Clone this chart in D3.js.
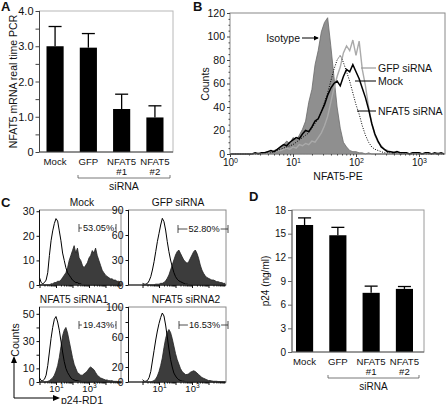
<!DOCTYPE html>
<html><head><meta charset="utf-8">
<script src="https://cdn.jsdelivr.net/npm/d3@7/dist/d3.min.js"></script>
<style>
body{margin:0;background:#fff;}
svg{display:block;font-family:"Liberation Sans",Arial,Helvetica,sans-serif;}
</style></head><body>
<svg id="c" width="446" height="404"></svg>
<script>
// ---------- DATA ----------
// Panel A
const catsA = ["Mock","GFP","NFAT5\n#1","NFAT5\n#2"];
const valsA = [3.0, 2.96, 1.22, 0.98];
const errA  = [0.56, 0.40, 0.42, 0.33];
const ticksA = [0,1,2,3,4];
// Panel D
const catsD = ["Mock","GFP","NFAT5\n#1","NFAT5\n#2"];
const valsD = [16.1, 14.8, 7.5, 8.0];
const errD  = [0.9, 1.0, 0.85, 0.3];
const ticksD = [0,3,6,9,12,15,18];
// Panel B : histograms, log10 start 0, step 0.05
const bStart = 0, bStep = 0.05;
const bIsotype = [0,0,0,0,0,0,0,0,1,0, 1,1,2,1,3,4,5,8,11,9, 14,12,16,21,28,44,55,76,88,104, 112,116,92,66,40,22,10,6,3,2, 2,1,1,0,1,0,0,0,0,0, 0,0,0,0,0,0,0,0,0,0, 0,0,0,0,0,0,0,0,0];
const bMock    = [0,0,0,0,0,0,0,0,1,0, 1,1,2,3,2,4,6,8,7,10, 12,14,13,17,20,19,23,28,30,36, 42,50,56,60,62,58,66,72,70,76, 70,64,56,48,38,26,17,11,6,4, 2,2,1,2,1,1,1,0,1,1, 1,0,1,1,0,1,0,1,0];
const bGfp     = [0,0,0,0,0,0,0,0,0,1, 0,1,1,2,2,3,3,4,5,4, 6,5,8,7,9,8,11,10,14,18, 24,32,44,56,66,74,86,92,88,97, 84,96,72,58,40,26,16,10,7,4, 3,2,2,1,1,1,1,0,1,0, 1,0,0,1,0,0,1,0,0];
const bNfat5   = [0,0,0,0,0,0,0,0,0,0, 0,1,1,1,2,3,4,5,6,7, 8,10,12,14,16,18,22,26,30,36, 44,52,62,72,80,84,78,70,62,52, 42,34,24,16,10,6,4,3,2,1, 1,1,0,1,0,0,1,0,0,0, 0,0,0,0,0,0,0,0,0];
const bTicksY = [0,20,40,60,80,100,120];
// Panel C : histograms, log10 start 0, step 0.1
const cStart = 0, cStep = 0.1;
const cTitles = ["Mock","GFP siRNA","NFAT5 siRNA1","NFAT5 siRNA2"];
const cPercents = ["53.05%","52.80%","19.43%","16.53%"];
const cMockNeg = [3,1,0.5,1,2,5,12,18,22,25, 27,26,22,18,13,10,7,5,4,3, 2,1.5,1,1,0.5,0.5,0,0,0,0, 0,0,0,0,0,0,0,0,0,0, 0,0,0,0,0,0,0,0,0,0, 0];
const cMockPos = [0,0,0,0,0,0,0,0.5,0.5,1, 1,1.5,1.5,2,3,4,5,7,10,12, 14,16,13,15,11,10,8,7,8,9, 11,12,14,13,15,12,10,8,6,5, 4,3.5,3,2.5,2.5,2,2,1.5,1.5,1, 1];
const cGfpNeg  = [2,1,1,2,5,10,18,28,40,52, 62,72,80,76,66,52,40,30,22,15, 10,7,5,4,3,2,1,1,0.5,0.5, 0,0,0,0,0,0,0,0,0,0, 0,0,0,0,0,0,0,0,0,0, 0];
const cGfpPos  = [0,0,0,0,0,0,0,0,1,1, 1,2,2,3,5,8,12,18,24,30, 36,40,42,38,34,30,28,26,28,32, 36,40,42,38,32,24,18,14,11,9, 8,7,6,6,5,4,4,3,3,2, 2];
const cSi1Neg  = [3,1,1,2,5,12,22,32,40,46, 48,44,38,30,22,15,10,7,5,3, 2,1.5,1,1,0.5,0.5,0,0,0,0, 0,0,0,0,0,0,0,0,0,0, 0,0,0,0,0,0,0,0,0,0, 0];
const cSi1Pos  = [0,0,0,0,0,0.5,1,2,3,5, 8,12,18,26,34,38,40,36,30,24, 18,13,10,7,6,5,5,6,7,8, 10,11,10,9,7,5,4,3,2.5,2, 1.5,1.5,1,1,1,0.5,0.5,0.5,0,0, 0];
const cSi2Neg  = [3,1,1,2,6,14,28,42,56,68, 78,86,92,88,76,60,44,30,20,12, 8,5,3,2,1,1,0.5,0,0,0, 0,0,0,0,0,0,0,0,0,0, 0,0,0,0,0,0,0,0,0,0, 0];
const cSi2Pos  = [0,0,0,0,0,0,1,2,4,8, 14,22,32,46,58,66,70,66,58,48, 38,30,24,18,14,12,10,10,11,13, 14,15,14,12,10,8,6,5,4,3, 2,2,1.5,1,1,1,0.5,0.5,0,0, 0];
const cYTicks = [[0,10,20,30],[0,30,60,90],[0,10,20,30,40,50],[0,20,40,60,80,100]];
const cYLabels = [[0,10,20,30],[0,30,60,90],[0,10,30,50],[0,20,60,100]];

// ---------- HELPERS ----------
const svg = d3.select("#c");
function txt(x,y,s,o={}){
  const t = svg.append("text").attr("x",x).attr("y",y).text(s)
    .attr("font-size",o.size||10).attr("fill",o.fill||"#111")
    .attr("text-anchor",o.anchor||"start");
  if(o.weight) t.attr("font-weight",o.weight);
  if(o.rotate) t.attr("transform",`rotate(-90,${x},${y})`);
  return t;
}
function styleAxis(g,color){
  g.select(".domain").remove();
  g.selectAll(".tick line").attr("stroke",color||"#222");
  g.selectAll(".tick text").attr("fill","#111").attr("font-family",null);
}
function supFmt(g){
  g.selectAll(".tick text").each(function(d){
    const e = Math.round(Math.log10(d));
    const t = d3.select(this); t.text("10");
    t.append("tspan").attr("dy","-0.5em").attr("font-size","0.7em").text(e);
  });
}
function minorLogTicks(lo,hi){
  const out=[];
  for(let e=Math.floor(lo);e<=Math.ceil(hi);e++) for(let m=2;m<=9;m++){
    const v=m*Math.pow(10,e); const l=Math.log10(v);
    if(l>=lo && l<=hi) out.push(v);
  }
  return out;
}

// ---------- BAR PANELS ----------
function barPanel(c){
  const y = d3.scaleLinear().domain([0,c.ymax]).range([c.yb,c.yt]);
  const x = d3.scaleBand().domain(c.cats).range(c.band).paddingInner(0.485).paddingOuter(0);
  svg.append("rect").attr("x",c.xl).attr("y",c.yt).attr("width",c.xr-c.xl).attr("height",c.yb-c.yt)
    .attr("fill","none").attr("stroke",c.frameColor).attr("stroke-width",1);
  svg.append("g").selectAll("rect").data(c.vals).join("rect")
    .attr("x",(d,i)=>x(c.cats[i])).attr("width",x.bandwidth())
    .attr("y",d=>y(d)).attr("height",d=>y(0)-y(d)).attr("fill","#000");
  const eg = svg.append("g").attr("stroke","#000").attr("stroke-width",1.3);
  c.vals.forEach((v,i)=>{
    const cx = x(c.cats[i])+x.bandwidth()/2;
    eg.append("line").attr("x1",cx).attr("x2",cx).attr("y1",y(v)).attr("y2",y(v+c.errs[i]));
    eg.append("line").attr("x1",cx-6.5).attr("x2",cx+6.5).attr("y1",y(v+c.errs[i])).attr("y2",y(v+c.errs[i]));
  });
  svg.append("line").attr("x1",c.xl).attr("x2",c.xl).attr("y1",c.yt).attr("y2",c.yb).attr("stroke",c.axisColor);
  svg.append("line").attr("x1",c.xl).attr("x2",c.xr).attr("y1",c.yb).attr("y2",c.yb).attr("stroke",c.axisColor);
  const gy = svg.append("g").attr("transform",`translate(${c.xl},0)`)
    .call(d3.axisLeft(y).tickValues(c.ticks).tickFormat(c.fmt).tickSize(4).tickPadding(2))
    .attr("font-size",c.tickSize);
  styleAxis(gy,c.axisColor);
  if(c.minor){
    const gm = svg.append("g").attr("transform",`translate(${c.xl},0)`)
      .call(d3.axisLeft(y).tickValues(c.minor).tickFormat("").tickSize(4));
    styleAxis(gm,c.axisColor);
  }
  c.cats.forEach((cat,i)=>{
    const cx = x(cat)+x.bandwidth()/2;
    cat.split("\n").forEach((line,j)=>{
      txt(cx, c.catY + j*10, line, {size:c.catSize, anchor:"middle"});
    });
  });
  const [b0,b1,by] = c.bracket;
  svg.append("path").attr("d",`M${b0},${by-3}V${by}H${b1}V${by-3}`).attr("fill","none").attr("stroke","#555").attr("stroke-width",0.8);
  txt((b0+b1)/2, by+12, "siRNA", {size:c.sizeSi, anchor:"middle"});
  txt(c.ylabX, (c.yt+c.yb)/2, c.ylab, {size:c.ylabSize, anchor:"middle", rotate:true});
}

barPanel({xl:39.5, xr:173, yt:11, yb:152, ymax:4, band:[46.5,163.5], cats:catsA, vals:valsA, errs:errA,
  ticks:ticksA, minor:[0.5,1.5,2.5,3.5], fmt:d=>d===0?"0":d3.format(".1f")(d), tickSize:11,
  frameColor:"#b8b8b8", axisColor:"#444", catY:165, catSize:9.6, sizeSi:10.5, bracket:[78,170,178],
  ylab:"NFAT5 mRNA real time PCR", ylabX:17, ylabSize:10.5});

barPanel({xl:292, xr:424, yt:210, yb:352, ymax:18, band:[296,413], cats:catsD, vals:valsD, errs:errD,
  ticks:ticksD, minor:null, fmt:d3.format("d"), tickSize:10,
  frameColor:"#9a9a9a", axisColor:"#666", catY:365, catSize:9.6, sizeSi:10, bracket:[328,419,378],
  ylab:"p24 (ng/ml)", ylabX:269, ylabSize:10});

// ---------- PANEL B ----------
(function(){
  const xl=230, xr=445, yt=13, yb=154;
  const x = d3.scaleLog().domain([1, Math.pow(10,(xr-xl)/63)]).range([xl,xr]);
  const y = d3.scaleLinear().domain([0,120]).range([yb,yt]);
  const pts = arr => arr.map((v,i)=>[Math.pow(10,bStart+i*bStep), v]);
  const area = d3.area().x(d=>x(d[0])).y0(y(0)).y1(d=>y(d[1]));
  const line = d3.line().x(d=>x(d[0])).y(d=>y(d[1]));
  svg.append("path").attr("d",area(pts(bIsotype))).attr("fill","#8f8f8f").attr("stroke","#6a6a6a").attr("stroke-width",0.8);
  svg.append("path").attr("d",line(pts(bGfp))).attr("fill","none").attr("stroke","#aaaaaa").attr("stroke-width",1.4);
  svg.append("path").attr("d",line(pts(bMock))).attr("fill","none").attr("stroke","#000").attr("stroke-width",1.5);
  svg.append("path").attr("d",line(pts(bNfat5))).attr("fill","none").attr("stroke","#000").attr("stroke-width",1).attr("stroke-dasharray","1,1.5");
  svg.append("rect").attr("x",xl).attr("y",yt).attr("width",xr-xl).attr("height",yb-yt).attr("fill","none").attr("stroke","#888");
  const gy = svg.append("g").attr("transform",`translate(${xl},0)`)
    .call(d3.axisLeft(y).tickValues(bTicksY).tickSize(3).tickPadding(2)).attr("font-size",10.5);
  styleAxis(gy,"#444");
  const gym = svg.append("g").attr("transform",`translate(${xl},0)`)
    .call(d3.axisLeft(y).tickValues(d3.range(5,120,5).filter(v=>v%20)).tickSize(1.5).tickFormat(""));
  styleAxis(gym,"#444");
  const gx = svg.append("g").attr("transform",`translate(0,${yb})`)
    .call(d3.axisBottom(x).tickValues([1,10,100,1000]).tickSize(3).tickPadding(2)).attr("font-size",10);
  styleAxis(gx,"#444"); supFmt(gx);
  const gxm = svg.append("g").attr("transform",`translate(0,${yb})`)
    .call(d3.axisBottom(x).tickValues(minorLogTicks(0,(xr-xl)/63)).tickSize(1.5).tickFormat(""));
  styleAxis(gxm,"#444");
  txt(338,180,"NFAT5-PE",{size:10.5,anchor:"middle"});
  txt(209,84,"Counts",{size:10.5,anchor:"middle",rotate:true});
  txt(300,42,"Isotype",{size:10.5,anchor:"end"});
  svg.append("defs").html('<marker id="ah" viewBox="0 0 6 6" refX="5" refY="3" markerWidth="5" markerHeight="5" orient="auto"><path d="M0,0L6,3L0,6z" fill="#000"/></marker>');
  svg.append("line").attr("x1",302).attr("x2",318).attr("y1",38).attr("y2",38).attr("stroke","#000").attr("marker-end","url(#ah)");
  svg.append("line").attr("x1",361).attr("x2",376).attr("y1",68).attr("y2",68).attr("stroke","#999").attr("stroke-width",1.2);
  svg.append("line").attr("x1",355).attr("x2",376).attr("y1",81).attr("y2",81).attr("stroke","#000");
  svg.append("line").attr("x1",357).attr("x2",376).attr("y1",111).attr("y2",111).attr("stroke","#000");
  txt(378,72,"GFP siRNA",{size:10.5});
  txt(378,85,"Mock",{size:10.5});
  txt(378,115,"NFAT5 siRNA",{size:10.5});
})();

// ---------- PANEL C ----------
(function(){
  const panels = [
    {xl:39.5, xr:121, lo:0, hi:4.94, yt:210, yb:285, ymax:30.5, neg:cMockNeg, pos:cMockPos, xl_lab:false, pct:[79,116,228], tx:82},
    {xl:128.5, xr:226, lo:-0.85, hi:5.06, yt:210, yb:285, ymax:90, neg:cGfpNeg, pos:cGfpPos, xl_lab:false, pct:[178,228,229], tx:178},
    {xl:39.5, xr:121, lo:0, hi:4.94, yt:307, yb:382, ymax:55, neg:cSi1Neg, pos:cSi1Pos, xl_lab:true, pct:[79,116,325], tx:74},
    {xl:128.5, xr:226, lo:-0.85, hi:5.06, yt:307, yb:382, ymax:100, neg:cSi2Neg, pos:cSi2Pos, xl_lab:true, pct:[179,228,325], tx:186}
  ];
  panels.forEach((p,k)=>{
    const x = d3.scaleLog().domain([Math.pow(10,p.lo),Math.pow(10,p.hi)]).range([p.xl,p.xr]);
    const y = d3.scaleLinear().domain([0,p.ymax]).range([p.yb,p.yt]);
    const pts = arr => arr.map((v,i)=>[Math.pow(10,cStart+i*cStep), v]);
    svg.append("path").attr("d",d3.area().x(d=>x(d[0])).y0(y(0)).y1(d=>y(d[1]))(pts(p.pos)))
      .attr("fill","#3c3c3c").attr("stroke","#222").attr("stroke-width",0.8);
    svg.append("path").attr("d",d3.line().x(d=>x(d[0])).y(d=>y(d[1]))(pts(p.neg)))
      .attr("fill","none").attr("stroke","#000").attr("stroke-width",1);
    svg.append("rect").attr("x",p.xl).attr("y",p.yt).attr("width",p.xr-p.xl).attr("height",p.yb-p.yt)
      .attr("fill","none").attr("stroke","#8a8a8a");
    svg.append("line").attr("x1",p.xl).attr("x2",p.xl).attr("y1",p.yt).attr("y2",p.yb).attr("stroke","#111");
    svg.append("line").attr("x1",p.xl).attr("x2",p.xr).attr("y1",p.yb).attr("y2",p.yb).attr("stroke","#111");
    const gy = svg.append("g").attr("transform",`translate(${p.xl},0)`)
      .call(d3.axisLeft(y).tickValues(cYTicks[k]).tickSize(3).tickPadding(2)
        .tickFormat(d=>cYLabels[k].includes(d)?d:"")).attr("font-size",10.5);
    styleAxis(gy,"#111");
    const majors = [1,10,100,1000,10000].filter(v=>Math.log10(v)>=p.lo && Math.log10(v)<=p.hi);
    const gx = svg.append("g").attr("transform",`translate(0,${p.yb})`)
      .call(d3.axisBottom(x).tickValues(majors).tickSize(3).tickPadding(0)).attr("font-size",9.5);
    styleAxis(gx,"#111");
    if(p.xl_lab){ supFmt(gx); gx.selectAll(".tick text").filter(d=>![10,1000].includes(d)).remove(); }
    else gx.selectAll(".tick text").remove();
    const gxm = svg.append("g").attr("transform",`translate(0,${p.yb})`)
      .call(d3.axisBottom(x).tickValues(minorLogTicks(Math.max(p.lo,0),p.hi)).tickSize(1.5).tickFormat(""));
    styleAxis(gxm,"#111");
    txt(p.tx, p.yt-4, cTitles[k], {size:10.2, anchor:"middle"});
    const [a,b,yy] = p.pct;
    const m = (a+b)/2+1;
    const t = txt(m, yy+3.2, cPercents[k], {size:9.2, anchor:"middle"});
    const w = t.node().getComputedTextLength();
    svg.append("path").attr("d",`M${a},${yy-4}V${yy+4}M${a},${yy}H${m-w/2-1}M${m+w/2+1},${yy}H${b}M${b},${yy-4}V${yy+4}`)
      .attr("stroke","#222").attr("fill","none").attr("stroke-width",0.8);
  });
  svg.append("path").attr("d","M14,361V398H54").attr("fill","none").attr("stroke","#000");
  svg.append("path").attr("d","M11,363L14,356L17,363Z").attr("fill","#000");
  svg.append("path").attr("d","M53,395L60,398L53,401Z").attr("fill","#000");
  txt(19,340,"Counts",{size:10.5,anchor:"middle",rotate:true});
  txt(61,403.5,"p24-RD1",{size:10.5});
})();

// ---------- PANEL LETTERS ----------
txt(1,11,"A",{size:13,weight:"bold"});
txt(193,11,"B",{size:13,weight:"bold"});
txt(1,207,"C",{size:13,weight:"bold"});
txt(249,201,"D",{size:13,weight:"bold"});
</script>
</body></html>
